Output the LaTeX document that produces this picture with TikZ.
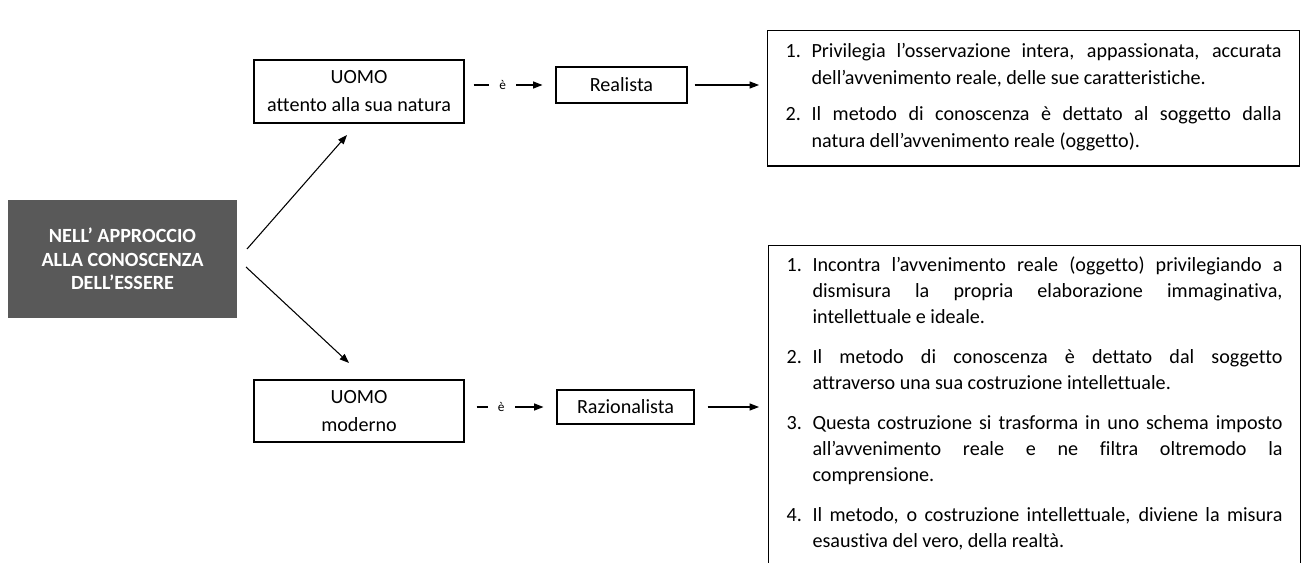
\documentclass[tikz,border=0pt]{standalone}
\usepackage{fontspec}
\setmainfont{Carlito}[Ligatures=NoCommon]
\usetikzlibrary{arrows.meta,calc}
\definecolor{darkgrey}{HTML}{595959}
\newcommand{\myitem}[2]{\par\noindent\hangindent=19.5pt\hangafter=1\makebox[19.5pt][l]{#1}#2\par}
\begin{document}
\begin{tikzpicture}[x=0.75pt,y=-0.75pt,
  txt/.style={font=\fontsize{15.1}{21}\selectfont},
  box/.style={draw=black, line width=0.8pt, inner sep=0pt, align=center, txt},
  darkbox/.style={fill=darkgrey, draw=none, inner sep=0pt, align=center, text=white,
    font=\fontsize{15.1}{17.5}\selectfont\bfseries},
  listbox/.style={draw=black, line width=0.8pt, inner xsep=13.5pt, inner ysep=0pt, align=justify,
    text width=372pt},
  conn/.style={line width=0.8pt, -{Triangle[length=7pt,width=5.25pt]}},
  lbl/.style={fill=white, inner xsep=7.5pt, inner ysep=1pt, font=\fontsize{10}{12}\selectfont}
]
\clip (0,0) rectangle (1301,563);
\fill[white] (0,0) rectangle (1301,563);

% left dark box
\node[darkbox, minimum width=171.75pt, minimum height=88.5pt] (dark) at (122.5,259)
  {NELL’ APPROCCIO\\ALLA CONOSCENZA\\DELL’ESSERE};

% UOMO boxes
\node[box, minimum width=157.5pt, minimum height=47.25pt] (uomo1) at (359,91.5)
  {UOMO\\attento alla sua natura};
\node[box, minimum width=157.5pt, minimum height=46.5pt] (uomo2) at (359,411)
  {UOMO\\moderno};

% type boxes
\node[box, minimum width=98.25pt, minimum height=27pt] (real) at (621.5,85)
  {Realista};
\node[box, minimum width=102.75pt, minimum height=25.5pt] (raz) at (625.5,407)
  {Razionalista};

% list box 1
\node[listbox, anchor=north west, minimum height=96pt,
  font=\fontsize{15.1}{20.25}\selectfont] (list1) at (767,30) {%
\kern2.75pt
\hyphenpenalty=10000\exhyphenpenalty=10000
\myitem{1.}{Privilegia l’osservazione intera, appassionata, accurata\linebreak dell’avvenimento reale, delle sue caratteristiche.}
\vspace{7pt}
\myitem{2.}{Il metodo di conoscenza è dettato al soggetto dalla\linebreak natura dell’avvenimento reale (oggetto).}
\kern11pt};

% list box 2 (continues below the picture)
\node[listbox, anchor=north west, font=\fontsize{15.1}{19.5}\selectfont] (list2) at (768,245) {%
\kern17pt
\hyphenpenalty=10000\exhyphenpenalty=10000
\myitem{1.}{Incontra l’avvenimento reale (oggetto) privilegiando a\linebreak dismisura la propria elaborazione immaginativa,\linebreak intellettuale e ideale.}
\vspace{10.5pt}
\myitem{2.}{Il metodo di conoscenza è dettato dal soggetto\linebreak attraverso una sua costruzione intellettuale.}
\vspace{10.5pt}
\myitem{3.}{Questa costruzione si trasforma in uno schema imposto\linebreak all’avvenimento reale e ne filtra oltremodo la\linebreak comprensione.}
\vspace{10.5pt}
\myitem{4.}{Il metodo, o costruzione intellettuale, diviene la misura\linebreak esaustiva del vero, della realtà.}
\kern30pt};

% diagonal arrows
\coordinate (d1) at (247,249);
\coordinate (u1) at (347,135);
\coordinate (d2) at (246,267);
\coordinate (u2) at (349,363);
\draw[conn] (d1) -- (u1);
\draw[conn] (d2) -- (u2);

% "è" connectors
\draw[conn, shorten <=6.75pt, shorten >=9.75pt] (uomo1.east |- real.center) -- node[lbl, pos=0.42] {è} (real.west);
\draw[conn, shorten <=9pt, shorten >=9.75pt] (uomo2.east |- raz.center) -- node[lbl, pos=0.4] {è} (raz.west);

% arrows to list boxes
\draw[conn, shorten <=5.25pt, shorten >=6pt] (real.east) -- (real.east -| list1.west);
\draw[conn, shorten <=9.75pt, shorten >=6.75pt] (raz.east) -- (raz.east -| list2.west);
\end{tikzpicture}
\end{document}
